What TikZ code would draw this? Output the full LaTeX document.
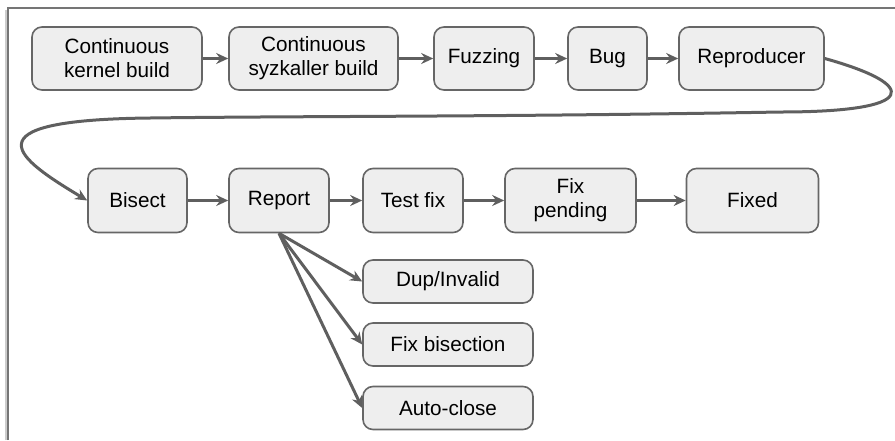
\documentclass[tikz,border=0pt]{standalone}
\usepackage{fontspec}
\setmainfont{Liberation Sans}
\usetikzlibrary{arrows.meta,positioning}
\definecolor{boxfill}{HTML}{EEEEEE}
\definecolor{boxline}{HTML}{666666}
\definecolor{arrline}{HTML}{5F5F5F}
\tikzset{>={Stealth[length=12pt,width=11pt,inset=4pt]}}
\tikzset{stage/.style={draw=boxline, fill=boxfill, line width=1.6pt, rounded corners=10pt,
    inner sep=0pt, minimum height=63pt, align=center,
    font=\fontsize{20.7}{24}\selectfont}}
\tikzset{flow/.style={->, draw=arrline, line width=3pt}}

\begin{document}
\begin{tikzpicture}[x=1pt,y=-1pt]
      \useasboundingbox (0,0) rectangle (895,440);
      % outer frame (only top and left edges show)
      \draw[gray!40, line width=2pt] (6,440) -- (6,10);
      \draw[boxline!90, line width=1.8pt] (8,440) -- (8,8) -- (895,8);
      % first row
      \node[stage, minimum width=170pt] (kbuild) at (117,58.5) {Continuous\\kernel build};
      \node[stage, minimum width=169pt] (sbuild) at (313.5,58.5) {Continuous\\syzkaller build};
      \node[stage, minimum width=100pt] (fuzz) at (484,58.5) {Fuzzing};
      \node[stage, minimum width=79pt] (bug) at (607.5,58.5) {Bug};
      \node[stage, minimum width=145pt] (repro) at (751.5,58.5) {Reproducer};
      % second row
      \node[stage, minimum width=99pt, minimum height=64pt] (bisect) at (137.5,200.5) {Bisect};
      \node[stage, minimum width=100pt, minimum height=64pt] (report) at (279,200.5) {Report};
      \node[stage, minimum width=100pt, minimum height=64pt] (testfix) at (413,200.5) {Test fix};
      \node[stage, minimum width=131pt, minimum height=64pt] (pending) at (570.5,200.5) {Fix\\pending};
      \node[stage, minimum width=132pt, minimum height=64pt] (fixed) at (752.5,200.5) {Fixed};
      % report outcomes
      \node[stage, minimum width=170pt, minimum height=43pt] (dup) at (448,281.5) {Dup/Invalid};
      \node[stage, minimum width=170pt, minimum height=43pt] (fixbis) at (448,344.5) {Fix bisection};
      \node[stage, minimum width=170pt, minimum height=43pt] (autoclose) at (448,408) {Auto-close};

      \draw[flow] (kbuild) -- (sbuild);
      \draw[flow] (sbuild) -- (fuzz);
      \draw[flow] (fuzz) -- (bug);
      \draw[flow] (bug) -- (repro);
      \draw[flow] (repro.east) .. controls (920,85) and (920,112) .. (780,112)
            .. controls (500,117) and (300,116) .. (150,118)
            .. controls (-40,120) and (20,160) .. (bisect.west);
      \draw[flow] (bisect) -- (report);
      \draw[flow] (report) -- (testfix);
      \draw[flow] (testfix) -- (pending);
      \draw[flow] (pending) -- (fixed);
      \draw[flow] (report.south) -- (dup.west);
      \draw[flow] (report.south) -- (fixbis.west);
      \draw[flow] (report.south) -- (autoclose.west);
    \end{tikzpicture}
\end{document}
